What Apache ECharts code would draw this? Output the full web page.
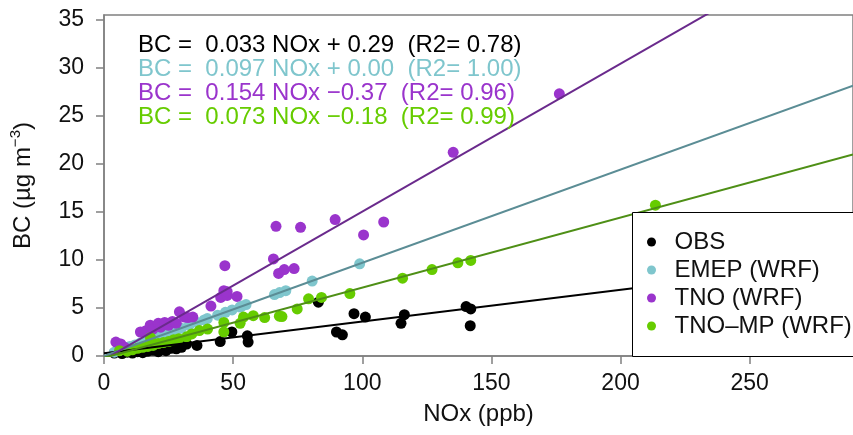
<!DOCTYPE html>
<html>
<head>
<meta charset="utf-8">
<script src="https://cdn.jsdelivr.net/npm/echarts@6/dist/echarts.min.js"></script>
<style>
  html, body { margin: 0; padding: 0; background: #fff; }
  #chart { width: 853px; height: 435px; }
</style>
</head>
<body>
<div id="chart"></div>
<script>
// Series names and colours
const seriesNames = ['OBS', 'EMEP (WRF)', 'TNO (WRF)', 'TNO\u2013MP (WRF)'];
const pointColors = ['#000000', '#7fc6cd', '#9a34cc', '#66cc00'];
const lineColors  = ['#000000', '#5b8d95', '#6a2a8c', '#4e8f16'];

// Linear fits BC = a * NOx + b
const fitSlope     = [0.033, 0.097, 0.154, 0.073];
const fitIntercept = [0.29, 0.00, -0.37, -0.18];
const fitR2        = [0.78, 1.00, 0.96, 0.99];

// Observations
const obsNox = [4, 7, 9, 11, 13, 15, 17, 19, 21, 23, 24, 26, 28, 30, 32, 36, 45, 49.5, 55.5, 55.8, 83, 90, 92.3, 96.8, 101.2, 115, 116.3, 140.2, 142, 141.8];
const obsBc  = [0.3, 0.25, 0.4, 0.3, 0.45, 0.35, 0.5, 0.6, 0.45, 0.7, 0.55, 0.8, 0.75, 0.9, 1.25, 1.1, 1.5, 2.5, 2.1, 1.45, 5.6, 2.5, 2.2, 4.4, 4.05, 3.4, 4.3, 5.15, 4.9, 3.15];

// EMEP (WRF)
const emepNox = [4, 6, 8, 10, 12, 14, 16, 18, 20, 22, 24, 26, 28, 30, 33, 36, 38.8, 40, 44, 47, 49.6, 52.7, 53.4, 55, 66, 68, 70.4, 80.6, 99];
const emepBc  = [0.4, 0.6, 0.8, 1.0, 1.15, 1.35, 1.55, 1.75, 1.95, 2.15, 2.35, 2.5, 2.7, 2.9, 3.2, 3.5, 3.75, 3.9, 4.25, 4.55, 4.8, 5.1, 5.2, 5.35, 6.4, 6.6, 6.8, 7.8, 9.6];

// TNO (WRF)
const tnoNox = [4.6, 6.5, 8, 14.1, 16, 17.9, 19, 21, 22, 23.5, 25, 26.5, 28, 29.2, 31.1, 32.5, 34.4, 41.4, 45.2, 46.4, 47.7, 47.7, 51.5, 46.8, 65.6, 66.6, 67.6, 69.8, 73.6, 76.1, 89.5, 100.5, 108.3, 135.2, 176.3];
const tnoBc  = [1.45, 1.25, 0.9, 2.5, 2.6, 3.2, 2.8, 3.4, 3.0, 3.5, 3.2, 3.6, 3.4, 4.6, 4.05, 4.0, 4.05, 5.2, 6.1, 6.8, 6.3, 6.7, 6.2, 9.4, 10.1, 13.5, 8.6, 9.0, 9.1, 13.4, 14.2, 12.6, 13.95, 21.2, 27.3];

// TNO-MP (WRF)
const tnompNox = [6, 9, 11, 13, 15, 17, 18, 19, 21, 23, 25, 27, 29, 32, 34, 36.9, 40.1, 46.4, 46.4, 52.7, 54, 57.8, 62.2, 67.9, 68.9, 74.8, 79.2, 84.2, 95.2, 115.6, 127, 137, 142, 213.5];
const tnompBc  = [0.55, 0.5, 0.65, 0.8, 0.9, 1.0, 1.9, 1.1, 1.3, 1.4, 1.5, 1.7, 1.8, 2.0, 2.3, 2.65, 2.8, 3.5, 2.5, 3.4, 4.05, 4.2, 4.0, 4.15, 4.1, 4.9, 5.95, 6.1, 6.5, 8.1, 9.0, 9.7, 9.95, 15.7];

// Axes
const xTicks = [0, 50, 100, 150, 200, 250];
const yTicks = [0, 5, 10, 15, 20, 25, 30, 35];
const xMax = 290;
const yMax = 35.5;

const FONT = '"Liberation Sans", Arial, Helvetica, sans-serif';
const AXIS_GREY = '#808080';

const pointSets = [
  [obsNox, obsBc],
  [emepNox, emepBc],
  [tnoNox, tnoBc],
  [tnompNox, tnompBc]
];

const scatterSeries = pointSets.map(([xs, ys], i) => ({
  name: seriesNames[i],
  type: 'scatter',
  symbol: 'circle',
  symbolSize: 11,
  z: 2 + i,
  itemStyle: { color: pointColors[i], opacity: 1 },
  emphasis: { disabled: true },
  data: xs.map((x, k) => [x, ys[k]])
}));

const fitSeries = fitSlope.map((a, i) => ({
  name: 'fit-' + i,
  type: 'line',
  symbol: 'none',
  silent: true,
  clip: true,
  z: 10,
  lineStyle: { color: lineColors[i], width: 2 },
  data: [[0, fitIntercept[i]], [xMax, a * xMax + fitIntercept[i]]]
}));

function equationText(i) {
  const b = fitIntercept[i];
  const bTxt = b < 0 ? '\u2212' + Math.abs(b).toFixed(2) : '+ ' + b.toFixed(2);
  return 'BC =  ' + fitSlope[i].toFixed(3) + ' NOx ' + bTxt + '  (R2= ' + fitR2[i].toFixed(2) + ')';
}

const eqTop = [45, 69, 93, 117];
const equations = fitSlope.map((a, i) => ({
  type: 'text',
  left: 138,
  top: eqTop[i] - 12,
  z: 20,
  style: {
    text: equationText(i),
    fill: pointColors[i],
    font: '24px ' + FONT
  }
}));

// Legend frame: runs on past the right edge of the plot, like the axes box
const legendFrame = {
  type: 'rect',
  z: 25,
  silent: true,
  shape: { x: 632.5, y: 212.5, width: 320, height: 144 },
  style: { fill: '#ffffff', stroke: '#000000', lineWidth: 1 }
};

const chart = echarts.init(document.getElementById('chart'), null, { renderer: 'canvas' });
chart.setOption({
  animation: false,
  backgroundColor: '#ffffff',
  grid: {
    left: 101,
    top: 15,
    right: -13,
    bottom: 79,
    show: true,
    borderColor: AXIS_GREY,
    borderWidth: 1.5,
    containLabel: false
  },
  xAxis: {
    type: 'value',
    min: 0,
    max: xMax,
    interval: 50,
    name: 'NOx (ppb)',
    nameLocation: 'middle',
    nameGap: 46,
    nameTextStyle: { fontFamily: FONT, fontSize: 24, color: '#111' },
    axisLine: { show: true, lineStyle: { color: AXIS_GREY, width: 1.5 } },
    axisTick: { show: true, length: 8, customValues: xTicks, lineStyle: { color: AXIS_GREY, width: 1.5 } },
    axisLabel: { customValues: xTicks, margin: 16, fontFamily: FONT, fontSize: 23, color: '#111' },
    splitLine: { show: false }
  },
  yAxis: {
    type: 'value',
    min: 0,
    max: yMax,
    interval: 5,
    name: '{t|BC (\u00b5g m}{s|\u22123}{t|)}',
    nameLocation: 'middle',
    nameGap: 66,
    nameTextStyle: {
      fontFamily: FONT,
      color: '#111',
      rich: {
        t: { fontFamily: FONT, fontSize: 24, lineHeight: 30, color: '#111' },
        s: { fontFamily: FONT, fontSize: 15, lineHeight: 15, verticalAlign: 'top', color: '#111' }
      }
    },
    axisLine: { show: true, lineStyle: { color: AXIS_GREY, width: 1.5 } },
    axisTick: { show: true, length: 8, customValues: yTicks, lineStyle: { color: AXIS_GREY, width: 1.5 } },
    axisLabel: { customValues: yTicks, margin: 20, fontFamily: FONT, fontSize: 23, color: '#111' },
    splitLine: { show: false }
  },
  legend: {
    data: seriesNames,
    orient: 'vertical',
    left: 632,
    top: 213,
    padding: [17, 10, 17, 15],
    itemWidth: 36,
    itemHeight: 9,
    itemGap: 4,
    icon: 'circle',
    selectedMode: false,
    borderWidth: 0,
    z: 30,
    textStyle: { fontFamily: FONT, fontSize: 24, lineHeight: 24, color: '#111' }
  },
  graphic: equations.concat([legendFrame]),
  series: scatterSeries.concat(fitSeries)
});
</script>
</body>
</html>
